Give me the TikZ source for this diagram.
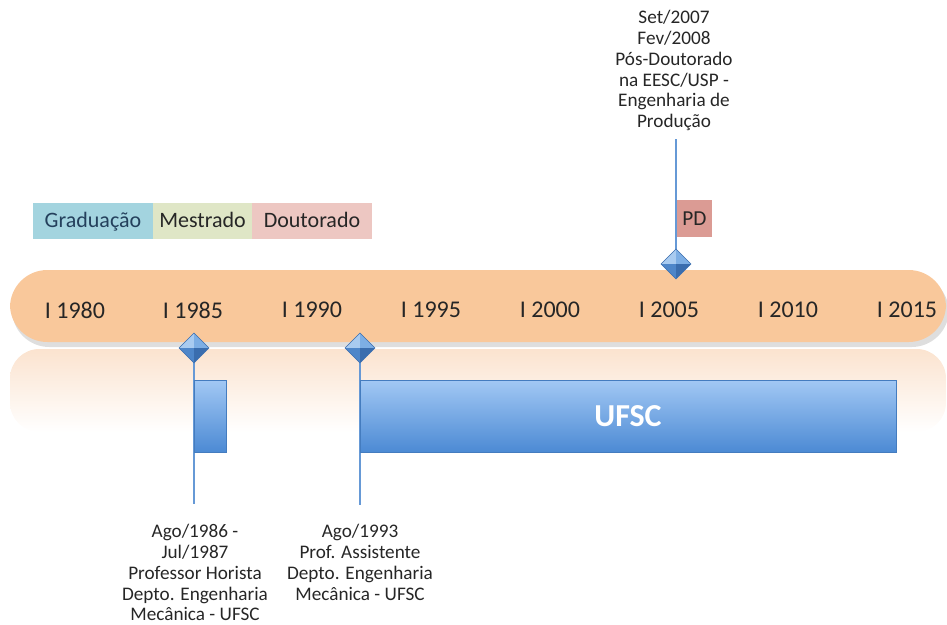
\documentclass[tikz,border=0pt]{standalone}
\usepackage{fontspec}
\setmainfont{Carlito}
\usetikzlibrary{shapes.geometric}
\definecolor{barorange}{HTML}{F9C89B}
\definecolor{reflorange}{HTML}{FBE3CF}
\definecolor{gradblue}{HTML}{A3D4DF}
\definecolor{gradtext}{HTML}{24405C}
\definecolor{mestgreen}{HTML}{DFE6C6}
\definecolor{doutpink}{HTML}{EDC7C2}
\definecolor{pdred}{HTML}{DB9B94}
\definecolor{linkblue}{HTML}{6699D6}
\definecolor{boxtop}{HTML}{A2C8F4}
\definecolor{boxbot}{HTML}{4C8AD4}
\definecolor{gemA}{HTML}{A9CBF0}
\definecolor{gemB}{HTML}{7DAEE4}
\definecolor{gemC}{HTML}{4E86C9}
\definecolor{gemD}{HTML}{3A6DAE}
\definecolor{txt}{HTML}{262626}
\pgfdeclarelayer{back}
\pgfdeclarelayer{mid}
\pgfsetlayers{back,mid,main}
\tikzset{
  legend/.style={inner sep=0, minimum height=27pt, text height=12.5pt, text depth=2.5pt, font=\fontsize{16.5}{18}\selectfont, text=txt},
  year/.style={inner sep=0, font=\fontsize{18}{20}\selectfont, text=txt},
  note/.style={inner sep=0, align=center, font=\fontsize{14.4}{15.6}\selectfont, text=txt},
  bluebox/.style={inner sep=0, minimum height=54pt, top color=boxtop, bottom color=boxbot, draw=boxbot!90!black, line width=0.4pt},
  vline/.style={draw=linkblue, line width=1.5pt},
  gem/.style={diamond, minimum width=22.5pt, minimum height=22.5pt, inner sep=0, fill=gemB,
    path picture={
      \fill[gemA] (path picture bounding box.north) -- (path picture bounding box.west) -- (path picture bounding box.center) -- cycle;
      \fill[gemB] (path picture bounding box.north) -- (path picture bounding box.east) -- (path picture bounding box.center) -- cycle;
      \fill[gemC] (path picture bounding box.south) -- (path picture bounding box.west) -- (path picture bounding box.center) -- cycle;
      \fill[gemD] (path picture bounding box.south) -- (path picture bounding box.east) -- (path picture bounding box.center) -- cycle;
    }, draw=gemD, line width=0.4pt}
}
\begin{document}
\begin{tikzpicture}[x=0.75pt,y=-0.75pt]
\useasboundingbox (0,0) rectangle (947,625);
\begin{pgfonlayer}{back}
  % reflection band
  \shade[top color=reflorange, bottom color=white, rounded corners=22] (10,349) rectangle (946,432);
  % shadow of the bar
  \fill[black!13, rounded corners=28] (12,275) rectangle (949,347);
  % main bar
  \fill[barorange, rounded corners=28] (10,270) rectangle (946,342);
\end{pgfonlayer}

% legend
\node[legend, fill=gradblue, text=gradtext, minimum width=90pt] (grad) at (93,221) {Graduação};
\node[legend, fill=mestgreen, minimum width=74.25pt] (mest) at (202.5,221) {Mestrado};
\node[legend, fill=doutpink, minimum width=90pt] (dout) at (312,221) {Doutorado};
\node[legend, fill=pdred, minimum width=26.25pt, minimum height=27.75pt, font=\fontsize{16}{18}\selectfont] (pd) at (694.5,218.5) {PD};

% years
\node[year] (y1980) at (75,310) {I 1980};
\node[year] (y1985) at (193,310) {I 1985};
\node[year] (y1990) at (312,310) {I 1990};
\node[year] (y1995) at (431,310) {I 1995};
\node[year] (y2000) at (550,310) {I 2000};
\node[year] (y2005) at (669,310) {I 2005};
\node[year] (y2010) at (788,310) {I 2010};
\node[year] (y2015) at (907,310) {I 2015};

% bars
\node[bluebox, minimum width=24pt] (b86) at (210,416) {};
\node[bluebox, minimum width=402pt, text=white, font=\fontsize{24}{26}\bfseries\selectfont] (ufsc) at (628,416) {UFSC};

% diamonds
\node[gem] (d05) at (676,264) {};
\node[gem] (d86) at (194,348) {};
\node[gem] (d93) at (360,348) {};

% ends of the lines
\coordinate (s05) at (676,139);
\coordinate (e86) at (194,504);
\coordinate (e93) at (360,505);

\begin{pgfonlayer}{mid}
  \draw[vline] (d05.center) -- (s05);
  \draw[vline] (d86.center) -- (e86);
  \draw[vline] (d93.center) -- (e93);
\end{pgfonlayer}

% notes
\node[note, anchor=north] (t05) at (674,10) {Set/2007\\Fev/2008\\Pós-Doutorado\\na EESC/USP -\\Engenharia de\\Produção};
\node[note, anchor=north] (t86) at (195,524) {Ago/1986 -\\Jul/1987\\Professor Horista\\Depto. Engenharia\\Mecânica - UFSC};
\node[note, anchor=north] (t93) at (360,524) {Ago/1993\\Prof. Assistente\\Depto. Engenharia\\Mecânica - UFSC};
\end{tikzpicture}
\end{document}
